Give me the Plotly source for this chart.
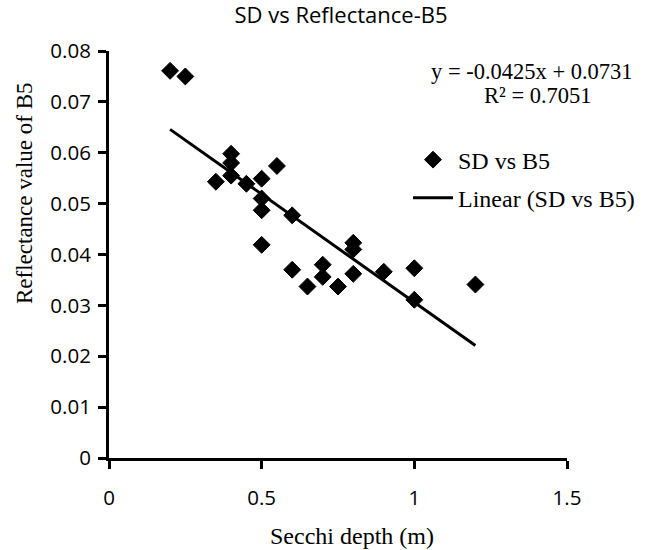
import plotly.graph_objects as go

# Secchi depth (m) and band-5 reflectance for each sampling station
secchi_depth = [0.2, 0.25, 0.35, 0.4, 0.4, 0.4, 0.45, 0.5, 0.5, 0.5, 0.5, 0.55,
                0.6, 0.6, 0.65, 0.7, 0.7, 0.75, 0.8, 0.8, 0.8, 0.9, 1.0, 1.0, 1.2]
reflectance_b5 = [0.0761, 0.0750, 0.0543, 0.0598, 0.0580, 0.0555, 0.0539, 0.0549,
                  0.0510, 0.0487, 0.0419, 0.0574, 0.0477, 0.0370, 0.0337, 0.0380,
                  0.0356, 0.0337, 0.0423, 0.0410, 0.0362, 0.0366, 0.0373, 0.0311,
                  0.0341]

# Least-squares fit reported on the chart
slope = -0.0425
intercept = 0.0731
r_squared = 0.7051

x_ticks = [0, 0.5, 1, 1.5]
y_ticks = [0, 0.01, 0.02, 0.03, 0.04, 0.05, 0.06, 0.07, 0.08]

SANS = "Open Sans"
SERIF = "Liberation Serif"
BLACK = "#000000"

fit_x = [min(secchi_depth), max(secchi_depth)]
fit_y = [slope * v + intercept for v in fit_x]

fig = go.Figure()
fig.add_trace(go.Scatter(
    x=secchi_depth, y=reflectance_b5, mode="markers", name="SD vs B5",
    marker=dict(symbol="diamond", size=13, color=BLACK,
                line=dict(color=BLACK, width=1)),
    legendgroup="a",
))
fig.add_trace(go.Scatter(
    x=fit_x, y=fit_y, mode="lines", name="Linear (SD vs B5)",
    line=dict(color=BLACK, width=3),
    legendgroup="b",
))

axis_common = dict(
    showline=True, linewidth=3, linecolor=BLACK,
    ticks="outside", ticklen=8, tickwidth=3, tickcolor=BLACK,
    showgrid=False, zeroline=False,
    tickfont=dict(family=SANS, size=20.5, color=BLACK),
)

fig.update_layout(
    width=660, height=550,
    margin=dict(l=109, r=93, t=51, b=92),
    paper_bgcolor="white", plot_bgcolor="white",
    title=dict(text="SD vs Reflectance-B5", x=341 / 660, xref="container",
               xanchor="center", y=1 - 15 / 550, yref="container",
               yanchor="middle",
               font=dict(family=SANS, size=22, color=BLACK)),
    xaxis=dict(range=[0, 1.5], tickvals=x_ticks, ticklabelstandoff=11,
               **axis_common),
    yaxis=dict(range=[0, 0.08], tickvals=y_ticks, ticklabelstandoff=3,
               **axis_common),
    showlegend=True,
    legend=dict(x=(408 - 109) / 458, xanchor="left",
                y=(458.5 - 179) / 407.8, yanchor="middle",
                bgcolor="rgba(0,0,0,0)", itemwidth=40, tracegroupgap=4,
                font=dict(family=SERIF, size=24, color=BLACK)),
)

fig.add_annotation(text=f"y = {slope:.4f}x + {intercept:.4f}",
                   xref="paper", yref="paper",
                   x=(532 - 109) / 458, y=(458.5 - 71.7) / 407.8,
                   xanchor="center", yanchor="middle", showarrow=False,
                   font=dict(family=SERIF, size=22.5, color=BLACK))
fig.add_annotation(text=f"R² = {r_squared:.4f}",
                   xref="paper", yref="paper",
                   x=(538 - 109) / 458, y=(458.5 - 95) / 407.8,
                   xanchor="center", yanchor="middle", showarrow=False,
                   font=dict(family=SERIF, size=22.5, color=BLACK))

fig.add_annotation(text="Secchi depth (m)", xref="paper", yref="paper",
                   x=(352 - 109) / 458, y=(458.5 - 537) / 407.8,
                   xanchor="center", yanchor="middle", showarrow=False,
                   font=dict(family=SERIF, size=24, color=BLACK))
fig.add_annotation(text="Reflectance value of B5", xref="paper", yref="paper",
                   x=(24 - 109) / 458, y=(458.5 - 193) / 407.8,
                   xanchor="center", yanchor="middle", showarrow=False,
                   textangle=-90,
                   font=dict(family=SERIF, size=23, color=BLACK))

fig.write_html("out.html")
